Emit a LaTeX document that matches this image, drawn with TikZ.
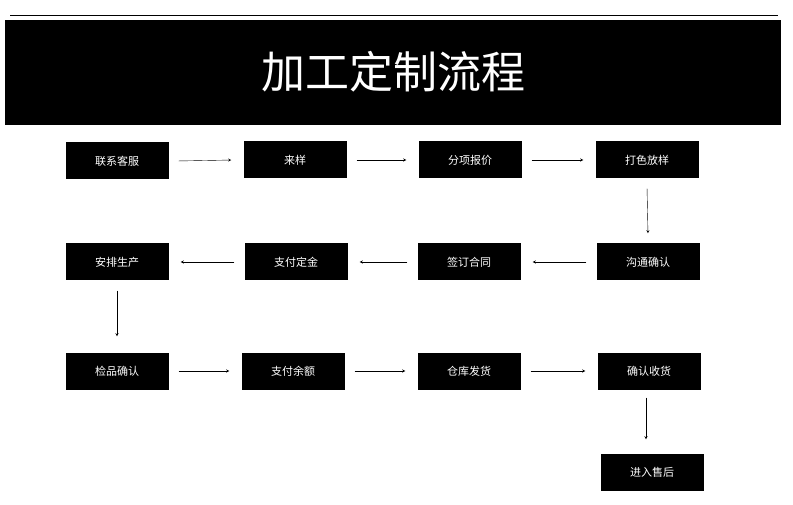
\documentclass[tikz,border=0pt]{standalone}
\usepackage{fontspec}
\newfontfamily\cjk{Noto Sans CJK SC}
\begin{document}
\begin{tikzpicture}[x=1pt,y=-1pt,
  stage/.style={fill=black, text=white, minimum width=103pt, minimum height=37pt, font=\cjk\fontsize{11}{13}\selectfont},
  flow/.style={->, >=stealth, thin, shorten >=2pt, shorten <=2pt}]
\useasboundingbox (0,0) rectangle (793,505);
\draw (10,15) -- (778,15);
\fill (5,20) rectangle (781,125);
\node [text=white, font=\cjk\fontsize{44}{48}\selectfont] (title) at (393,72) {加工定制流程};

\node [stage] (s1) at (117,161) {联系客服};
\node [stage] (s2) at (295,160) {来样};
\node [stage] (s3) at (470,160) {分项报价};
\node [stage] (s4) at (647,160) {打色放样};

\node [stage] (s8) at (117,262) {安排生产};
\node [stage] (s7) at (296,262) {支付定金};
\node [stage] (s6) at (469,262) {签订合同};
\node [stage] (s5) at (648,262) {沟通确认};

\node [stage] (s9) at (117,371) {检品确认};
\node [stage] (s10) at (293,371) {支付余额};
\node [stage] (s11) at (469,371) {仓库发货};
\node [stage] (s12) at (649,371) {确认收货};
\node [stage] (s13) at (652,472) {进入售后};

\draw [flow] ([xshift=8pt]s1.east) -- ([xshift=-10pt]s2.west);
\draw [flow] ([xshift=8pt]s2.east) -- ([xshift=-10pt]s3.west);
\draw [flow] ([xshift=8pt]s3.east) -- ([xshift=-10pt]s4.west);
\draw [flow] ([yshift=-8pt]s4.south) -- ([yshift=8pt]s5.north);
\draw [flow] ([xshift=-8pt]s5.west) -- ([xshift=10pt]s6.east);
\draw [flow] ([xshift=-8pt]s6.west) -- ([xshift=10pt]s7.east);
\draw [flow] ([xshift=-8pt]s7.west) -- ([xshift=10pt]s8.east);
\draw [flow] ([yshift=-8pt]s8.south) -- ([yshift=14pt]s9.north);
\draw [flow] ([xshift=8pt]s9.east) -- ([xshift=-10pt]s10.west);
\draw [flow] ([xshift=8pt]s10.east) -- ([xshift=-10pt]s11.west);
\draw [flow] ([xshift=8pt]s11.east) -- ([xshift=-10pt]s12.west);
\draw [flow] ([xshift=-3pt,yshift=-6pt]s12.south) -- ([xshift=-6pt,yshift=12pt]s13.north);
\end{tikzpicture}
\end{document}
